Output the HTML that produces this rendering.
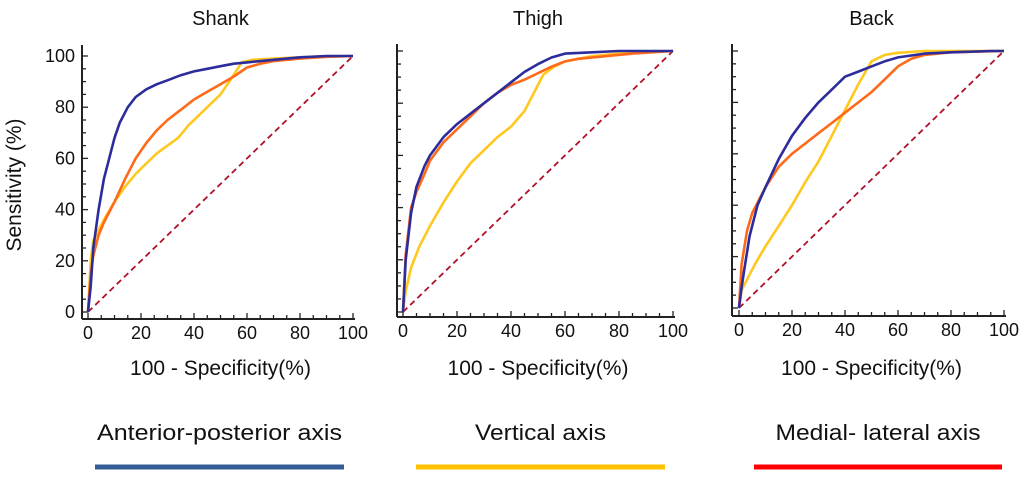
<!DOCTYPE html>
<html><head><meta charset="utf-8"><style>
html,body{margin:0;padding:0;background:#fff;}
svg{display:block;font-family:"Liberation Sans",sans-serif;}
</style></head><body>
<svg id="chart" width="1024" height="479" viewBox="0 0 1024 479"></svg>
<script>
const NS="http://www.w3.org/2000/svg";
const panelTitles=["Shank","Thigh","Back"];
const xTicks=[0,20,40,60,80,100];
const yTicks=[0,20,40,60,80,100];
const seriesNames=["anterior-posterior","vertical","medial-lateral"];
// Shank
const shankApX=[0,1,2,4,6,8,10,12,15,18,22,26,30,35,40,45,50,55,60,70,80,90,100];
const shankApY=[0,10,25,40,52,60,68,74,80,84,87,89,90.5,92.5,94,95,96,97,97.5,98.5,99.5,100,100];
const shankMlX=[0,1,2,4,6,10,14,18,22,26,30,35,40,45,50,55,60,65,70,80,90,100];
const shankMlY=[0,15,22,30,35,43,52,60,66,71,75,79,83,86,89,92,95.5,97,98,99,99.7,100];
const shankVX=[0,1,2,4,6,10,14,18,22,26,30,34,38,42,46,50,54,58,62,70,80,100];
const shankVY=[0,20,28,32,36,43,49,54,58,62,65,68,73,77,81,85,91,97.5,98.5,99,99.5,100];
// Thigh
const thighApX=[0,1,3,5,8,10,15,20,25,30,35,40,45,50,55,60,70,80,100];
const thighApY=[0,20,38,48,56,60,67,72,76,80,84,88,92,95,97.5,99,99.5,100,100];
const thighMlX=[0,1,3,5,8,10,15,20,25,30,35,40,45,50,55,60,65,75,85,100];
const thighMlY=[0,22,40,46,53,58,65,70,75,80,84,87,89,91.5,94,96,97,98,99,100];
const thighVX=[0,1,3,6,10,15,20,25,30,35,40,45,48,52,56,60,70,80,100];
const thighVY=[0,8,17,25,33,42,50,57,62,67,71,77,83,91,94,96,98,99,100];
// Back
const backApX=[0,1,2,4,7,10,15,20,25,30,35,40,45,50,55,60,70,80,95,100];
const backApY=[0,8,15,28,40,47,58,67,74,80,85,90,92,94,96,97.5,99,99.5,100,100];
const backMlX=[0,1,3,5,8,10,15,20,25,30,35,40,45,50,55,60,65,70,80,100];
const backMlY=[0,17,30,37,43,47,55,60,64,68,72,76,80,84,89,94,97,98.5,99.5,100];
const backVX=[0,1,3,6,10,15,20,25,30,35,40,45,50,55,60,70,100];
const backVY=[0,7,11,17,24,32,40,49,57,67,77,87,96,98.5,99.3,100,100];

const panels=[
 {x0:88,x1:353,y0:312,y1:56,ax:82,ab:319,at:45,data:[[shankVX,shankVY],[shankMlX,shankMlY],[shankApX,shankApY]],ylab:true},
 {x0:403,x1:673,y0:312,y1:51,ax:397,ab:317,at:44,data:[[thighVX,thighVY],[thighMlX,thighMlY],[thighApX,thighApY]],ylab:false},
 {x0:739,x1:1004,y0:308,y1:51,ax:732,ab:316,at:44,data:[[backVX,backVY],[backMlX,backMlY],[backApX,backApY]],ylab:false}
];
const colors=["#ffc81e","#ff6a1a","#2c2c9c"];
const svg=document.getElementById('chart');
function mk(t,a,p){const e=document.createElementNS(NS,t);for(const k in a)e.setAttribute(k,a[k]);(p||svg).appendChild(e);return e;}

panels.forEach((p,i)=>{
 const g=mk('g',{});
 
 
 const sx=v=>p.x0+(p.x1-p.x0)*v/100;
 const sy=v=>p.y0+(p.y1-p.y0)*v/100;
 const t=mk('text',{x:(p.x0+p.x1)/2,y:25,'text-anchor':'middle','font-size':20,fill:'#111'},g);
 t.textContent=panelTitles[i];
 
 
 const ya=mk('line',{x1:p.ax,y1:p.at,x2:p.ax,y2:p.ab,stroke:'#222','stroke-width':2},g);
 
 
 const xa=mk('line',{x1:p.ax,y1:p.ab,x2:p.x1+2,y2:p.ab,stroke:'#222','stroke-width':2},g);
 
 
 for(let v=0;v<=100;v+=5){
  const major=v%20===0;
  mk('line',{x1:sx(v),y1:p.ab,x2:sx(v),y2:p.ab-(major?6:4),stroke:'#222','stroke-width':1.3},g);
  mk('line',{x1:p.ax,y1:sy(v),x2:p.ax+(major?6:4),y2:sy(v),stroke:'#222','stroke-width':1.3},g);
 }
 xTicks.forEach(v=>{
  const l=mk('text',{x:sx(v),y:p.ab+20,'text-anchor':'middle','font-size':18,fill:'#111'},g);
  l.textContent=v;
  
  
 });
 if(p.ylab){
  yTicks.forEach(v=>{
   const l=mk('text',{x:p.ax-7,y:sy(v)+6,'text-anchor':'end','font-size':18,fill:'#111'},g);
   l.textContent=v;
   
   
  });
  const yt=mk('text',{x:0,y:0,'text-anchor':'middle','font-size':21,fill:'#111',transform:'translate(21,185) rotate(-90)'},g);
  yt.textContent='Sensitivity (%)';
  
  
 }
 const xt=mk('text',{x:(p.x0+p.x1)/2,y:375,'text-anchor':'middle','font-size':21,fill:'#111'},g);
 xt.textContent='100 - Specificity(%)';
 
 
 const d=mk('line',{x1:sx(0),y1:sy(0),x2:sx(100),y2:sy(100),stroke:'#b0102a','stroke-width':1.8,'stroke-dasharray':'6,4'},g);
 
 
 p.data.forEach((s,j)=>{
  const pts=s[0].map((x,k)=>sx(x).toFixed(1)+','+sy(s[1][k]).toFixed(1)).join(' ');
  const pl=mk('polyline',{points:pts,fill:'none',stroke:colors[j],'stroke-width':2.6,'stroke-linejoin':'round'},g);
  
  
 });
});

const legend=[["Anterior-posterior axis",95,344,"#355c96"],["Vertical axis",416,665,"#ffc000"],["Medial- lateral axis",754,1002,"#ff0000"]];
const lw=[245,131,205];
legend.forEach((L,i)=>{
 const t=mk('text',{x:(L[1]+L[2])/2,y:440,'text-anchor':'middle','font-size':22,fill:'#111',textLength:lw[i],lengthAdjust:'spacingAndGlyphs'});
 t.textContent=L[0];
 
 
 const l=mk('line',{x1:L[1],y1:467,x2:L[2],y2:467,stroke:L[3],'stroke-width':5});
 
 
});
</script>
</body></html>
